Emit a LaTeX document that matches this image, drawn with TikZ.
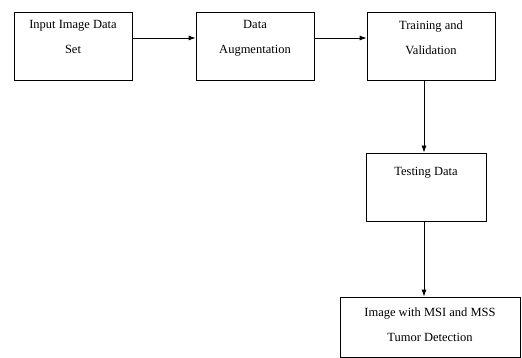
\documentclass[tikz,border=0pt]{standalone}
\usepackage{fontspec}
\setmainfont{Liberation Serif}
\usetikzlibrary{arrows.meta}
\begin{document}
\begin{tikzpicture}[x=1pt,y=1pt,
  box/.style={draw,line width=0.8pt,inner sep=0pt},
  txt/.style={align=center,anchor=north,font=\fontsize{12.5}{25}\selectfont,inner sep=0pt},
  arr/.style={line width=0.8pt,-{Latex[length=7pt,width=5pt]}}]
\useasboundingbox(0,0)rectangle(522,-358);
\node[box,minimum width=118,minimum height=68](input)at(73,-46){};
\node[box,minimum width=118,minimum height=68](augment)at(255,-46){};
\node[box,minimum width=128,minimum height=68](train)at(431,-46){};
\node[box,minimum width=120,minimum height=68](test)at(426,-187){};
\node[box,minimum width=180,minimum height=60](result)at(430,-327){};
\node[txt](input-t)at([yshift=-9]input.north){Input Image Data\\Set};
\node[txt](augment-t)at([yshift=-9]augment.north){Data\\Augmentation};
\node[txt](train-t)at([yshift=-9]train.north){Training and\\Validation};
\node[txt](test-t)at([yshift=-14]test.north){Testing Data};
\node[txt](result-t)at([yshift=-11]result.north){Image with MSI and MSS\\Tumor Detection};
\draw[arr]([yshift=8]input.east)--([yshift=8]augment.west);
\draw[arr]([yshift=8]augment.east)--([yshift=8]train.west);
\draw[arr]([xshift=-7]train.south)--([xshift=-2]test.north);
\draw[arr]([xshift=-2]test.south)--([xshift=-6]result.north);
\end{tikzpicture}
\end{document}
